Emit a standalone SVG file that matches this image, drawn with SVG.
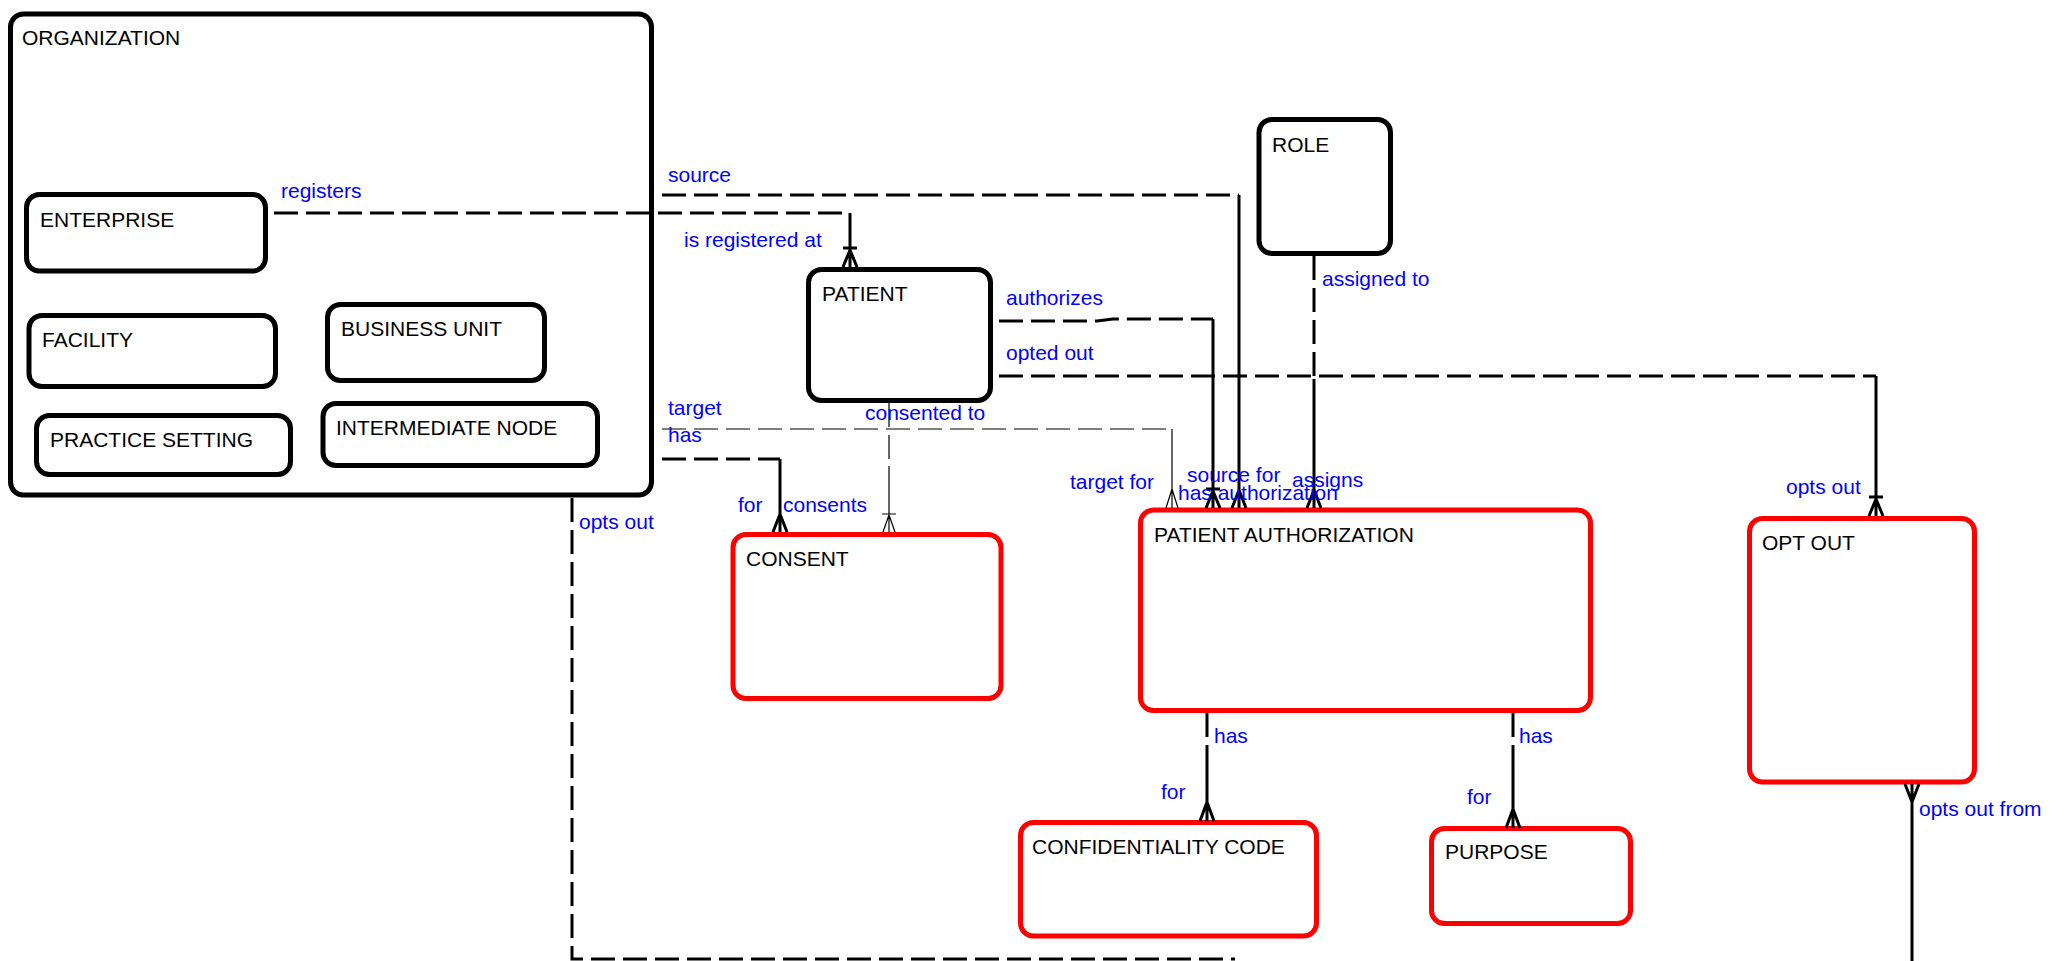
<svg xmlns="http://www.w3.org/2000/svg" width="2070" height="961" viewBox="0 0 2070 961">
<style>
.bg{fill:#ffffff}
.ent{fill:#ffffff;stroke:#000000;stroke-width:5}
.entr{fill:#ffffff;stroke:#ff0000;stroke-width:5}
.nt{font-family:"Liberation Sans",Arial,sans-serif;font-size:21px;fill:#000000}
.lb{font-family:"Liberation Sans",Arial,sans-serif;font-size:21px;fill:#0000ff}
.d{fill:none;stroke:#000000;stroke-width:3;stroke-dasharray:24 8}
.s{fill:none;stroke:#000000;stroke-width:3}
.dt{fill:none;stroke:#000000;stroke-width:1.2;stroke-dasharray:24 8}
.st{fill:none;stroke:#000000;stroke-width:1.2}
</style>
<rect class="bg" x="0" y="0" width="2070" height="961"/>
<g id="node-organization">
<rect class="ent" x="10.5" y="14" width="641" height="481" rx="13"/>
<text class="nt" x="22" y="45">ORGANIZATION</text>
</g>
<g id="node-enterprise">
<rect class="ent" x="26.5" y="194.5" width="239" height="76.5" rx="13"/>
<text class="nt" x="40" y="227">ENTERPRISE</text>
</g>
<g id="node-facility">
<rect class="ent" x="29" y="315.5" width="246.5" height="71" rx="13"/>
<text class="nt" x="42" y="347">FACILITY</text>
</g>
<g id="node-business-unit">
<rect class="ent" x="327.5" y="304.5" width="217" height="76" rx="13"/>
<text class="nt" x="341" y="336">BUSINESS UNIT</text>
</g>
<g id="node-practice-setting">
<rect class="ent" x="36.5" y="415.5" width="254" height="59" rx="13"/>
<text class="nt" x="50" y="447">PRACTICE SETTING</text>
</g>
<g id="node-intermediate-node">
<rect class="ent" x="323" y="403.5" width="274.5" height="62" rx="13"/>
<text class="nt" x="336" y="435">INTERMEDIATE NODE</text>
</g>
<g id="node-patient">
<rect class="ent" x="808.5" y="269.5" width="182" height="131" rx="13"/>
<text class="nt" x="822" y="301">PATIENT</text>
</g>
<g id="node-role">
<rect class="ent" x="1259" y="119.5" width="131.5" height="134" rx="13"/>
<text class="nt" x="1272" y="152">ROLE</text>
</g>
<g id="node-consent">
<rect class="entr" x="733" y="534.5" width="268" height="164" rx="13"/>
<text class="nt" x="746" y="566">CONSENT</text>
</g>
<g id="node-patient-authorization">
<rect class="entr" x="1140.5" y="510" width="450" height="200.5" rx="13"/>
<text class="nt" x="1154" y="542">PATIENT AUTHORIZATION</text>
</g>
<g id="node-opt-out">
<rect class="entr" x="1749.5" y="518.5" width="225" height="263.5" rx="13"/>
<text class="nt" x="1762" y="550">OPT OUT</text>
</g>
<g id="node-confidentiality-code">
<rect class="entr" x="1020.5" y="822.5" width="296" height="113.5" rx="13"/>
<text class="nt" x="1032" y="854">CONFIDENTIALITY CODE</text>
</g>
<g id="node-purpose">
<rect class="entr" x="1431.5" y="828.5" width="199" height="95" rx="13"/>
<text class="nt" x="1445" y="859">PURPOSE</text>
</g>
<g id="connectors">
<!-- registers / is registered at -->
<path class="d" d="M274,213 H850"/>
<path class="s" d="M850,213 V267 M843,248 H857 M850,250 L843,267 M850,250 V267 M850,250 L857,267"/>
<!-- source / source for -->
<path class="d" d="M662,195 H1239"/>
<path class="s" d="M1239,195 V508 M1239,490 L1232,508 M1239,490 L1246,508"/>
<!-- authorizes / has authorization -->
<path class="d" d="M999,321 H1097 L1113,319 H1213"/>
<path class="s" d="M1213,319 V508 M1206,489 H1220 M1213,491 L1206,508 M1213,491 L1220,508"/>
<!-- opted out / opts out -->
<path class="d" d="M999,376 H1876"/>
<path class="s" d="M1876,376 V516 M1869,497 H1883 M1876,499 L1869,516 M1876,499 L1883,516"/>
<!-- target / target for (thin) -->
<path class="dt" d="M662,429 H1172"/>
<path class="st" d="M1172,429 V508 M1172,489 L1166,508 M1172,489 L1178,508"/>
<!-- has / for (organization to consent) -->
<path class="d" d="M662,459 H780"/>
<path class="s" d="M780,459 V532 M780,514 L773,532 M780,514 L787,532"/>
<!-- consented to / consents (thin) -->
<path class="dt" d="M889,403 V466"/>
<path class="st" d="M889,466 V532 M882,514 H896 M889,515 L883,532 M889,515 L895,532"/>
<!-- assigned to / assigns -->
<path class="d" d="M1314,256 V379"/>
<path class="s" d="M1314,379 V508 M1314,490 L1307,508 M1314,490 L1321,508"/>
<!-- has / for (confidentiality code) -->
<path class="d" d="M1207,713 V762"/>
<path class="s" d="M1207,762 V821 M1207,802 L1200,821 M1207,802 L1214,821"/>
<!-- has / for (purpose) -->
<path class="d" d="M1513,713 V766"/>
<path class="s" d="M1513,766 V828 M1513,809 L1506,828 M1513,809 L1520,828"/>
<!-- opts out (organization) -->
<path class="d" d="M572,498 V959 H1235"/>
<!-- opts out from -->
<path class="s" d="M1912,784 V961 M1912,802 L1905,784 M1912,802 L1919,784"/>
</g>
<g id="labels">
<text class="lb" x="281" y="198">registers</text>
<text class="lb" x="684" y="247">is registered at</text>
<text class="lb" x="668" y="182">source</text>
<text class="lb" x="1006" y="305">authorizes</text>
<text class="lb" x="1006" y="360">opted out</text>
<text class="lb" x="668" y="415">target</text>
<text class="lb" x="668" y="442">has</text>
<text class="lb" x="865" y="420">consented to</text>
<text class="lb" x="738" y="512">for</text>
<text class="lb" x="783" y="512">consents</text>
<text class="lb" x="579" y="529">opts out</text>
<text class="lb" x="1322" y="286">assigned to</text>
<text class="lb" x="1070" y="489">target for</text>
<text class="lb" x="1187" y="482">source for</text>
<text class="lb" x="1178" y="500">has authorization</text>
<text class="lb" x="1292" y="487">assigns</text>
<text class="lb" x="1786" y="494">opts out</text>
<text class="lb" x="1214" y="743">has</text>
<text class="lb" x="1161" y="799">for</text>
<text class="lb" x="1519" y="743">has</text>
<text class="lb" x="1467" y="804">for</text>
<text class="lb" x="1919" y="816">opts out from</text>
</g>
</svg>
